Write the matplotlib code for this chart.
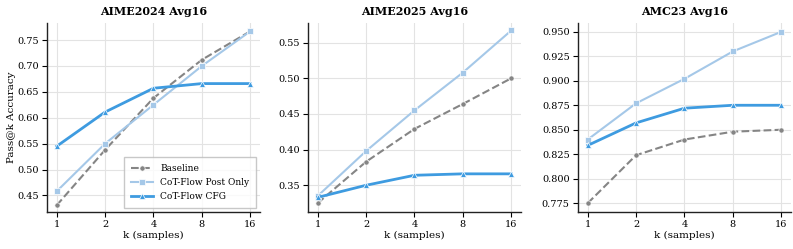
import matplotlib
matplotlib.use("Agg")
import matplotlib.pyplot as plt
import numpy as np

plt.rcParams['font.family'] = ['DejaVu Serif']

k_values = [1, 2, 4, 8, 16]
titles = ["AIME2024 Avg16", "AIME2025 Avg16", "AMC23 Avg16"]
series_names = ["Baseline", "CoT-Flow Post Only", "CoT-Flow CFG"]

aime24_baseline = [0.431, 0.538, 0.638, 0.712, 0.767]
aime24_post = [0.458, 0.550, 0.625, 0.700, 0.767]
aime24_cfg = [0.545, 0.611, 0.657, 0.666, 0.666]

aime25_baseline = [0.325, 0.383, 0.429, 0.464, 0.500]
aime25_post = [0.335, 0.398, 0.455, 0.508, 0.567]
aime25_cfg = [0.333, 0.350, 0.364, 0.366, 0.366]

amc23_baseline = [0.775, 0.824, 0.840, 0.848, 0.850]
amc23_post = [0.840, 0.877, 0.902, 0.930, 0.950]
amc23_cfg = [0.834, 0.857, 0.872, 0.875, 0.875]

data = [
    (aime24_baseline, aime24_post, aime24_cfg),
    (aime25_baseline, aime25_post, aime25_cfg),
    (amc23_baseline, amc23_post, amc23_cfg),
]

styles = [
    dict(color="#858585", linestyle="--", marker="o", linewidth=1.5, markersize=3.8),
    dict(color="#a5c8e8", linestyle="-", marker="s", linewidth=1.5, markersize=3.8),
    dict(color="#3e9be0", linestyle="-", marker="^", linewidth=2.0, markersize=4.2),
]

fig = plt.figure(figsize=(7.93, 2.49), dpi=100)
lefts = [47, 308, 578]
width = 213
bottom = 249 - 212
height = 212 - 23
axes = []
for i in range(3):
    ax = fig.add_axes([lefts[i] / 793, bottom / 249, width / 793, height / 249])
    axes.append(ax)
    for s, (name, vals) in enumerate(zip(series_names, data[i])):
        ax.plot(k_values, vals, label=name, markeredgecolor="white",
                markeredgewidth=0.5, **styles[s])
    ax.set_xscale("log", base=2)
    ax.set_xticks(k_values)
    ax.set_xticklabels([str(k) for k in k_values])
    ax.minorticks_off()
    ax.set_title(titles[i], fontsize=8, fontweight="bold", pad=6)
    ax.set_xlabel("k (samples)", fontsize=7.5, labelpad=1)
    ax.grid(True, color="#e3e3e3", linewidth=0.8)
    ax.set_axisbelow(True)
    for sp in ["top", "right"]:
        ax.spines[sp].set_visible(False)
    for sp in ["left", "bottom"]:
        ax.spines[sp].set_color("#222222")
        ax.spines[sp].set_linewidth(1.0)
    ax.tick_params(labelsize=7, length=3.5, width=0.8, pad=2.5)
    ax.set_xlim(0.87, 18.4)

axes[0].set_ylabel("Pass@k Accuracy", fontsize=7.5, labelpad=1)
axes[0].set_ylim(0.418, 0.783)
axes[0].set_yticks([0.45, 0.50, 0.55, 0.60, 0.65, 0.70, 0.75])
axes[1].set_ylim(0.3125, 0.5775)
axes[1].set_yticks([0.35, 0.40, 0.45, 0.50, 0.55])
axes[2].set_ylim(0.766, 0.959)
axes[2].set_yticks([0.775, 0.800, 0.825, 0.850, 0.875, 0.900, 0.925, 0.950])
axes[2].yaxis.set_major_formatter(matplotlib.ticker.FormatStrFormatter("%.3f"))
axes[0].yaxis.set_major_formatter(matplotlib.ticker.FormatStrFormatter("%.2f"))
axes[1].yaxis.set_major_formatter(matplotlib.ticker.FormatStrFormatter("%.2f"))

axes[0].legend(loc="lower right", fontsize=6.5, frameon=True, edgecolor="#bbbbbb",
               fancybox=False, handlelength=2.4, borderpad=0.8, labelspacing=0.55,
               borderaxespad=0.4)

fig.savefig("out.png", dpi=100)
